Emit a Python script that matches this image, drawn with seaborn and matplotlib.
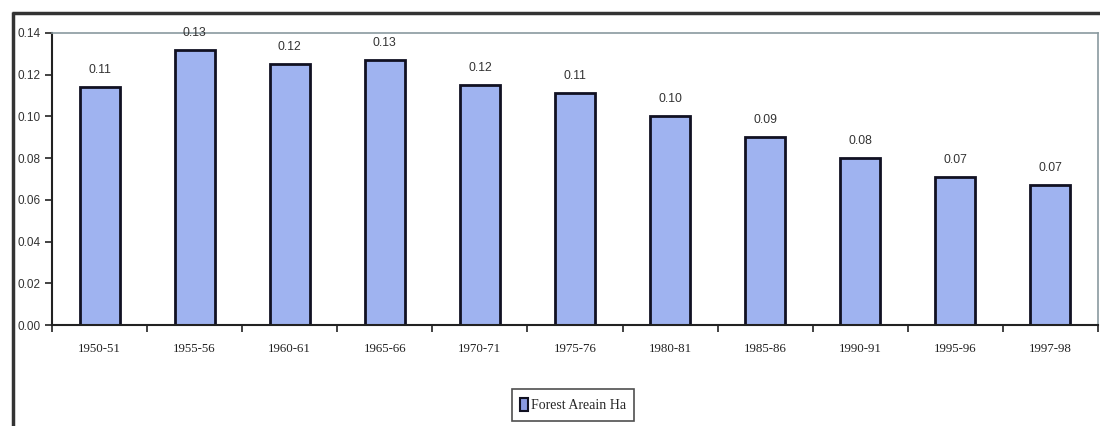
import matplotlib
matplotlib.use("Agg")
import matplotlib.pyplot as plt
import seaborn as sns
import pandas as pd
from matplotlib.lines import Line2D
from matplotlib.patches import Patch

periods = ["1950-51", "1955-56", "1960-61", "1965-66", "1970-71", "1975-76",
           "1980-81", "1985-86", "1990-91", "1995-96", "1997-98"]
forest_area = [0.114, 0.132, 0.125, 0.127, 0.115, 0.111, 0.100, 0.090, 0.080, 0.071, 0.067]
value_labels = ["0.11", "0.13", "0.12", "0.13", "0.12", "0.11", "0.10", "0.09", "0.08", "0.07", "0.07"]
y_ticks = [0.00, 0.02, 0.04, 0.06, 0.08, 0.10, 0.12, 0.14]
series_name = "Forest Areain Ha"

df = pd.DataFrame({"period": periods, "value": forest_area})

sns.set_theme(style="white")
sans = "Liberation Sans"
serif = "Liberation Serif"

fig = plt.figure(figsize=(11, 4.26), dpi=100)
ax = fig.add_axes([52/1100, 1-325/426, (1098-52)/1100, (325-33)/426])

bar_color = "#9fb3f0"
sns.barplot(data=df, x="period", y="value", ax=ax, color=bar_color,
            edgecolor="#111122", linewidth=2, width=0.42, saturation=1)

ax.set_xlim(-0.5, len(periods) - 0.5)
ax.set_ylim(0, 0.14)
ax.set_yticks(y_ticks)
ax.set_yticklabels([f"{t:.2f}" for t in y_ticks], fontfamily=sans, fontsize=8.5, color="#333333")
ax.set_xticks(range(len(periods)))
ax.set_xticklabels(periods, fontfamily=serif, fontsize=9.3, color="#222222")
ax.set_xlabel("")
ax.set_ylabel("")

# x ticks between categories
ax.set_xticks([i - 0.5 for i in range(len(periods) + 1)], minor=True)
ax.tick_params(axis="x", which="major", length=0, pad=13)
ax.tick_params(axis="x", which="minor", length=5, width=1.2, color="#222222", direction="out", bottom=True)
ax.tick_params(axis="y", length=5, width=1.2, color="#222222", direction="out", left=True, pad=3)

for side in ["left", "bottom"]:
    ax.spines[side].set_color("#222222")
    ax.spines[side].set_linewidth(1.5)
for side in ["top", "right"]:
    ax.spines[side].set_color("#8a9aa0")
    ax.spines[side].set_linewidth(1.2)

for i, (v, lab) in enumerate(zip(forest_area, value_labels)):
    ax.annotate(lab, xy=(i, v), xytext=(0, 8), textcoords="offset points",
                ha="center", va="bottom", fontfamily=sans, fontsize=8.8,
                color="#333333", annotation_clip=False)

# outer chart frame
fig.add_artist(Line2D([13/1100, 13/1100], [0, 1-12/426], transform=fig.transFigure,
                      color="#333333", linewidth=2.5, solid_capstyle="butt"))
fig.add_artist(Line2D([12/1100, 1], [1-13/426, 1-13/426], transform=fig.transFigure,
                      color="#333333", linewidth=2.5, solid_capstyle="butt"))

handles = [Patch(facecolor="#8a9ae0", edgecolor="#111122", linewidth=1.5, label=series_name)]
leg = fig.legend(handles=handles, loc="center", bbox_to_anchor=(573/1100, 1-405/426),
                 frameon=True, fancybox=False, handlelength=0.6, handleheight=1.1,
                 handletextpad=0.2, borderpad=0.6, borderaxespad=0,
                 prop={"family": serif, "size": 10})
leg.get_frame().set_edgecolor("#222222")
leg.get_frame().set_linewidth(1.2)

fig.savefig("out.png", dpi=100)
